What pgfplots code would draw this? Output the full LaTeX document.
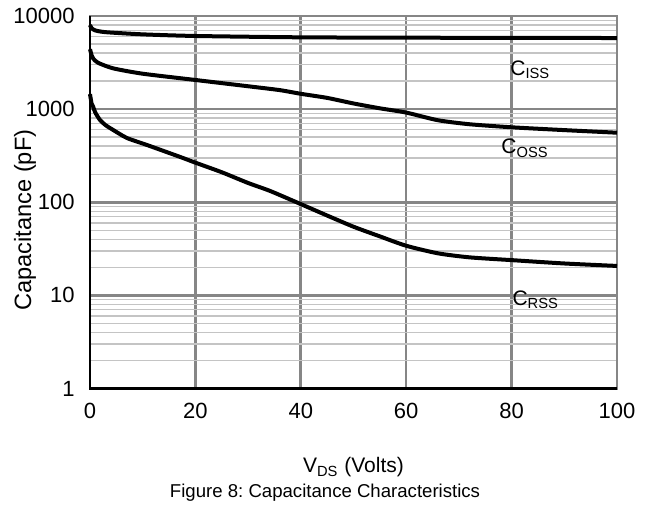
\documentclass[border=0pt]{standalone}
\usepackage{fontspec}
\setmainfont{Liberation Sans}
\usepackage{pgfplots}
\pgfplotsset{compat=1.18}

\definecolor{majgrid}{RGB}{134,134,134}
\definecolor{mingrid}{RGB}{196,196,196}

\begin{document}
\fontsize{10.5pt}{12.6pt}\selectfont
\frenchspacing
\begin{tikzpicture}
\begin{axis}[
    at={(0,0)}, anchor=south west,
    scale only axis,
    width=263.5pt, height=186.25pt,
    xmin=0, xmax=100,
    ymode=log, ymin=1, ymax=10000,
    xtick={0,20,40,60,80,100},
    xticklabels={0,20,40,60,80,100},
    ytick={1,10,100,1000,10000},
    yticklabels={1,10,100,1000,10000},
    major tick length=0pt, minor tick length=0pt,
    xmajorgrids, ymajorgrids, yminorgrids,
    major grid style={majgrid, line width=1.3pt},
    minor grid style={mingrid, line width=0.7pt},
    axis line style={majgrid, line width=1.3pt},
    tick label style={font=\fontsize{11pt}{13pt}\selectfont},
    xticklabel style={yshift=-3.8pt},
    yticklabel style={xshift=-4pt},
    ylabel={Capacitance (pF)},
    ylabel style={at={(axis description cs:-0.1235,0.452)}, anchor=center,
        font=\fontsize{11.8pt}{14pt}\selectfont},
    clip=false,
]
\addplot[black, line width=2pt, smooth, tension=0.4] coordinates {
    (0,8000) (0.3,7400) (1,7000) (3,6700) (10,6350) (20,6100)
    (40,5900) (60,5850) (80,5820) (100,5800)
};
\addplot[black, line width=2pt, smooth, tension=0.4] coordinates {
    (0,4400) (0.3,3800) (0.6,3500) (1.5,3150) (4.4,2740) (10,2400)
    (20,2055) (30,1760) (36,1600) (40,1460) (45,1320) (50,1150)
    (55,1020) (60,918) (66,760) (72,688) (80,638) (90,595) (100,558)
};
\addplot[black, line width=2pt, smooth, tension=0.4] coordinates {
    (0,1450) (0.3,1150) (0.6,1060) (1,920) (1.9,764) (3,670) (4.4,597)
    (7,490) (10.8,412) (17,308) (20,266) (25,210) (30,161) (34.2,132)
    (40,95.5) (45,72) (50,54.6) (55,43) (60,34.1) (66,28.3) (72,25.6)
    (80,23.9) (90,22) (100,20.7)
};
\draw[black, line width=1.3pt] (rel axis cs:0,1) -- (rel axis cs:0,0) -- (rel axis cs:1,0);
\node[anchor=base west, inner sep=0pt] at (axis cs:79.7,2320) {C\textsubscript{ISS}};
\node[anchor=base west, inner sep=0pt] at (axis cs:78,330) {C\textsubscript{OSS}};
\node[anchor=base west, inner sep=0pt] at (axis cs:80.1,7.87) {C\textsubscript{RSS}};
\node[anchor=base, inner sep=0pt] at ([yshift=-42.25pt]rel axis cs:0.5,0) {V\textsubscript{DS} (Volts)};
\node[anchor=base, inner sep=0pt, font=\fontsize{9.3pt}{11pt}\selectfont]
    at ([yshift=-54.75pt]rel axis cs:0.446,0) {Figure 8: Capacitance Characteristics};
\end{axis}
\path[use as bounding box] (-45pt,-59.25pt) rectangle (280pt,194.25pt);
\end{tikzpicture}
\end{document}
